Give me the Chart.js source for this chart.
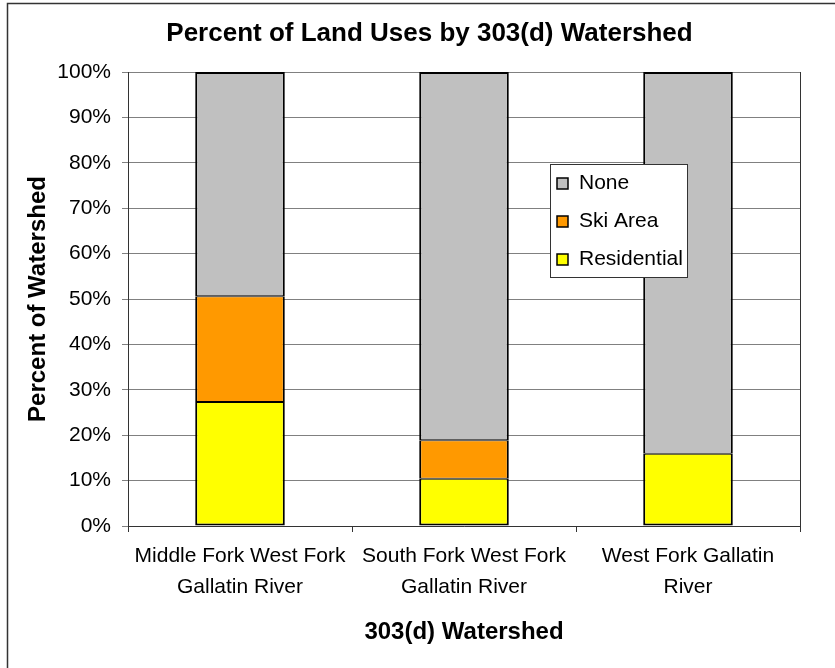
<!DOCTYPE html>
<html><head><meta charset="utf-8">
<script src="https://cdn.jsdelivr.net/npm/chart.js@4.4.0/dist/chart.umd.min.js"></script>
<style>html,body{margin:0;padding:0;background:#fff;overflow:hidden}#wrap{width:835px;height:668px}</style>
</head><body><div id="wrap"><canvas id="c" width="835" height="668"></canvas></div>
<script>
const categories = [['Middle Fork West Fork', 'Gallatin River'], ['South Fork West Fork', 'Gallatin River'], ['West Fork Gallatin', 'River']];
const residential = [27.3, 10.4, 15.9];
const skiArea = [23.3, 8.5, 0];
const none = [49.4, 81.1, 84.1];
const yTickLabels = ['0%', '10%', '20%', '30%', '40%', '50%', '60%', '70%', '80%', '90%', '100%'];
const seriesNames = ['Residential', 'Ski Area', 'None'];
const seriesColors = ['#FFFF00', '#FF9900', '#C0C0C0'];
const chartTitle = 'Percent of Land Uses by 303(d) Watershed';
const xTitle = '303(d) Watershed';
const yTitle = 'Percent of Watershed';

const FONT = "'Liberation Sans', Arial, sans-serif";
Chart.defaults.font.family = FONT;
Chart.defaults.color = '#000';

const frame = {
  id: 'frame',
  beforeDraw(chart) {
    const ctx = chart.ctx;
    ctx.save();
    ctx.fillStyle = '#fff';
    ctx.fillRect(0, 0, chart.width, chart.height);
    ctx.strokeStyle = '#333';
    ctx.lineWidth = 1.5;
    ctx.beginPath();
    ctx.moveTo(7.5, chart.height);
    ctx.lineTo(7.5, 3.5);
    ctx.lineTo(chart.width, 3.5);
    ctx.stroke();
    ctx.restore();
  }
};

const legendBox = {
  id: 'legendBox',
  afterDraw(chart) {
    const ctx = chart.ctx;
    ctx.save();
    const x = 550, y = 164, w = 137, h = 113;
    ctx.fillStyle = '#fff';
    ctx.fillRect(x, y, w, h);
    ctx.strokeStyle = '#333';
    ctx.lineWidth = 1;
    ctx.strokeRect(x + 0.5, y + 0.5, w, h);
    const ds = chart.data.datasets.slice().reverse();
    ctx.font = '21px ' + FONT;
    ctx.textBaseline = 'middle';
    ctx.textAlign = 'left';
    ds.forEach((d, i) => {
      const cy = 183.5 + i * 38;
      ctx.fillStyle = d.backgroundColor;
      ctx.fillRect(557, cy - 5.5, 11, 11);
      ctx.strokeStyle = '#000';
      ctx.lineWidth = 1.5;
      ctx.strokeRect(557, cy - 5.5, 11, 11);
      ctx.fillStyle = '#000';
      ctx.fillText(d.label, 579, cy);
    });
    ctx.restore();
  }
};

const seriesData = [residential, skiArea, none];
const borderWidths = [
  {left: 2, right: 2, top: 1, bottom: 2},
  {left: 2, right: 2, top: 1, bottom: 1},
  {left: 2, right: 2, top: 2, bottom: 1}
];

new Chart(document.getElementById('c'), {
  type: 'bar',
  data: {
    labels: categories,
    datasets: seriesNames.map((n, i) => ({
      label: n,
      data: seriesData[i],
      backgroundColor: seriesColors[i],
      borderColor: '#000',
      borderWidth: borderWidths[i],
      borderSkipped: false,
      categoryPercentage: 1,
      barPercentage: 0.4
    }))
  },
  options: {
    responsive: false,
    animation: false,
    devicePixelRatio: 1,
    layout: {padding: {left: 24, right: 0, top: 0, bottom: 0}},
    plugins: {
      legend: {display: false},
      tooltip: {enabled: false},
      title: {
        display: true,
        text: chartTitle,
        color: '#000',
        font: {size: 26, weight: 'bold', family: FONT},
        padding: {top: 18.4, bottom: 22.4}
      }
    },
    scales: {
      x: {
        stacked: true,
        offset: true,
        grid: {
          offset: true,
          drawOnChartArea: true,
          color: ctx => (ctx.index === 1 || ctx.index === 2) ? 'rgba(0,0,0,0)' : '#333',
          tickColor: '#333',
          tickLength: 6,
          lineWidth: 1
        },
        border: {display: true, color: '#333', width: 1},
        ticks: {
          autoSkip: false,
          maxRotation: 0,
          minRotation: 0,
          padding: 8.5,
          color: '#000',
          font: {size: 21, lineHeight: 1.48, family: FONT}
        },
        title: {
          display: true,
          text: xTitle,
          color: '#000',
          font: {size: 24, weight: 'bold', family: FONT},
          padding: {top: 0, bottom: 21.6}
        },
        afterFit: s => { s.height = 142; }
      },
      y: {
        stacked: true,
        min: 0,
        max: 100,
        grid: {color: '#808080', tickColor: '#808080', tickLength: 6, lineWidth: 1},
        border: {display: true, color: '#333', width: 1},
        ticks: {
          stepSize: 10,
          padding: 11,
          color: '#000',
          font: {size: 21, family: FONT},
          callback: (v, i) => yTickLabels[i]
        },
        title: {
          display: true,
          text: yTitle,
          color: '#000',
          font: {size: 24, weight: 'bold', family: FONT},
          padding: {top: 0, bottom: 0}
        },
        afterFit: s => { s.width = 104; }
      },
      yR: {
        type: 'linear',
        position: 'right',
        display: true,
        grid: {display: false},
        border: {display: false},
        ticks: {display: false},
        afterFit: s => { s.width = 35; }
      }
    }
  },
  plugins: [frame, legendBox]
});
</script>
</body></html>
